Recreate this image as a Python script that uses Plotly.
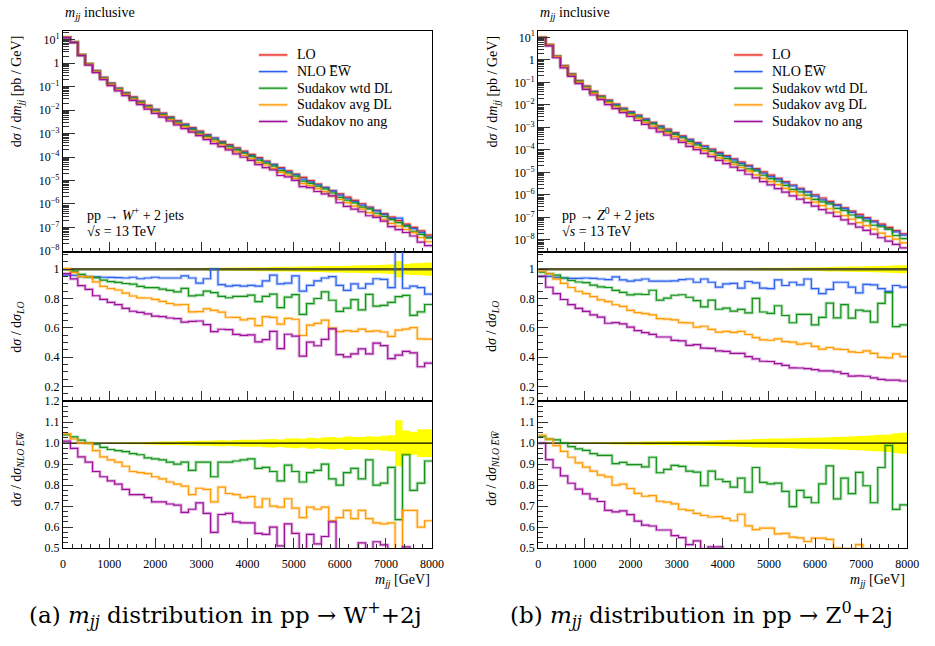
import plotly.graph_objects as go

# ---------------------------------------------------------------------------
# Binning: 50 bins of 160 GeV in m_jj
# ---------------------------------------------------------------------------
EDGES = list(range(0, 8001, 160))

# ---------------------------------------------------------------------------
# pp -> W+ + 2 jets
# ---------------------------------------------------------------------------
w_lo = [12.6, 7.94, 2.34, 0.955, 0.479, 0.251, 0.141, 0.0871, 0.0562, 0.0363,
        0.024, 0.0158, 0.0107, 7.41e-3, 5.13e-3, 3.55e-3, 2.51e-3, 1.78e-3, 1.26e-3, 8.91e-4,
        6.46e-4, 4.68e-4, 3.39e-4, 2.45e-4, 1.78e-4, 1.29e-4, 9.33e-5, 6.76e-5, 4.9e-5, 3.55e-5,
        2.57e-5, 1.86e-5, 1.35e-5, 9.77e-6, 7.08e-6, 5.13e-6, 3.72e-6, 2.69e-6, 1.95e-6, 1.41e-6,
        1.02e-6, 7.41e-7, 5.37e-7, 3.89e-7, 2.75e-7, 1.95e-7, 1.38e-7, 1.0e-7, 7.08e-8, 4.68e-8]
w_nlo_over_lo = [0.96, 0.958, 0.95, 0.948, 0.947, 0.945, 0.944, 0.943, 0.94, 0.945,
                 0.935, 0.94, 0.945, 0.94, 0.94, 0.94, 0.955, 0.94, 0.905, 0.935,
                 1.0, 0.895, 0.885, 0.89, 0.885, 0.89, 0.885, 0.92, 0.96, 0.9,
                 0.905, 0.955, 0.85, 0.89, 0.92, 0.94, 0.95, 0.89, 0.855, 0.9,
                 0.87, 0.9, 0.935, 0.93, 0.875, 1.28, 0.87, 0.885, 0.875, 0.83]
w_wtd_over_nlo = [1.04, 1.03, 1.015, 1.0, 0.995, 0.98, 0.97, 0.965, 0.96, 0.95,
                  0.945, 0.93, 0.925, 0.92, 0.91, 0.90, 0.91, 0.87, 0.91, 0.91,
                  0.84, 0.91, 0.91, 0.915, 0.92, 0.925, 0.88, 0.885, 0.865, 0.82,
                  0.895, 0.865, 0.815, 0.86, 0.87, 0.90, 0.83, 0.80, 0.86, 0.88,
                  0.83, 0.92, 0.80, 0.81, 0.885, 0.635, 0.945, 0.775, 0.81, 0.915]
w_avg_over_nlo = [1.045, 1.02, 1.0, 1.0, 0.965, 0.935, 0.92, 0.91, 0.89, 0.865,
                  0.86, 0.855, 0.84, 0.83, 0.815, 0.805, 0.795, 0.755, 0.785, 0.78,
                  0.72, 0.79, 0.76, 0.755, 0.74, 0.745, 0.695, 0.735, 0.70, 0.695,
                  0.735, 0.69, 0.645, 0.695, 0.685, 0.695, 0.63, 0.645, 0.68, 0.64,
                  0.68, 0.64, 0.62, 0.615, 0.62, 0.457, 0.68, 0.68, 0.60, 0.63]
w_noang_over_nlo = [1.01, 0.975, 0.935, 0.91, 0.865, 0.84, 0.82, 0.805, 0.78, 0.755,
                    0.755, 0.74, 0.72, 0.72, 0.71, 0.705, 0.67, 0.685, 0.715, 0.665,
                    0.575, 0.66, 0.665, 0.625, 0.62, 0.62, 0.57, 0.565, 0.60, 0.51,
                    0.615, 0.57, 0.48, 0.565, 0.52, 0.555, 0.625, 0.47, 0.47, 0.47,
                    0.525, 0.47, 0.53, 0.515, 0.446, 0.324, 0.505, 0.486, 0.383, 0.434]
w_lo_err = [0.002, 0.002, 0.002, 0.002, 0.002, 0.003, 0.003, 0.003, 0.003, 0.004,
            0.004, 0.005, 0.005, 0.006, 0.006, 0.007, 0.007, 0.008, 0.008, 0.009,
            0.010, 0.010, 0.011, 0.012, 0.012, 0.013, 0.014, 0.014, 0.015, 0.016,
            0.016, 0.017, 0.018, 0.019, 0.020, 0.021, 0.022, 0.022, 0.024, 0.025,
            0.026, 0.027, 0.028, 0.030, 0.032, 0.055, 0.036, 0.040, 0.042, 0.045]
w_nlo_err = [0.001, 0.001, 0.001, 0.002, 0.002, 0.002, 0.003, 0.003, 0.004, 0.005,
             0.005, 0.006, 0.007, 0.008, 0.008, 0.009, 0.010, 0.011, 0.012, 0.012,
             0.013, 0.014, 0.013, 0.015, 0.016, 0.017, 0.016, 0.019, 0.020, 0.018,
             0.022, 0.024, 0.021, 0.026, 0.024, 0.028, 0.030, 0.026, 0.032, 0.029,
             0.030, 0.033, 0.031, 0.036, 0.038, 0.110, 0.060, 0.055, 0.066, 0.066]

# ---------------------------------------------------------------------------
# pp -> Z0 + 2 jets
# ---------------------------------------------------------------------------
z_lo = [10.0, 4.79, 1.48, 0.55, 0.24, 0.12, 0.0676, 0.0398, 0.0251, 0.0162,
        0.0107, 7.24e-3, 5.01e-3, 3.47e-3, 2.4e-3, 1.66e-3, 1.17e-3, 8.32e-4, 5.89e-4, 4.17e-4,
        2.95e-4, 2.11e-4, 1.51e-4, 1.08e-4, 7.76e-5, 5.56e-5, 3.98e-5, 2.85e-5, 2.04e-5, 1.46e-5,
        1.05e-5, 7.5e-6, 5.37e-6, 3.85e-6, 2.75e-6, 1.97e-6, 1.41e-6, 1.01e-6, 7.24e-7, 5.19e-7,
        3.72e-7, 2.66e-7, 1.91e-7, 1.36e-7, 9.77e-8, 7.0e-8, 5.01e-8, 3.59e-8, 2.57e-8, 1.84e-8]
z_nlo_over_lo = [0.951, 0.951, 0.944, 0.94, 0.938, 0.938, 0.94, 0.938, 0.933, 0.929,
                 0.947, 0.927, 0.918, 0.925, 0.933, 0.918, 0.918, 0.918, 0.92, 0.929,
                 0.933, 0.911, 0.933, 0.911, 0.878, 0.9, 0.904, 0.871, 0.916, 0.907,
                 0.871, 0.867, 0.927, 0.889, 0.911, 0.893, 0.933, 0.867, 0.833, 0.862,
                 0.911, 0.911, 0.878, 0.838, 0.896, 0.893, 0.867, 0.849, 0.889, 0.878]
z_wtd_over_nlo = [1.031, 1.019, 1.016, 1.0, 0.984, 0.973, 0.966, 0.95, 0.942, 0.942,
                  0.903, 0.909, 0.898, 0.898, 0.887, 0.933, 0.859, 0.875, 0.894, 0.889,
                  0.867, 0.862, 0.797, 0.867, 0.828, 0.817, 0.79, 0.833, 0.767, 0.884,
                  0.813, 0.806, 0.81, 0.77, 0.697, 0.775, 0.742, 0.716, 0.806, 0.892,
                  0.734, 0.833, 0.759, 0.861, 0.797, 0.716, 0.884, 0.989, 0.684, 0.706]
z_avg_over_nlo = [1.039, 1.019, 0.988, 0.961, 0.933, 0.906, 0.886, 0.867, 0.848, 0.839,
                  0.8, 0.805, 0.784, 0.761, 0.747, 0.75, 0.723, 0.719, 0.711, 0.685,
                  0.68, 0.665, 0.655, 0.648, 0.65, 0.641, 0.63, 0.661, 0.606, 0.588,
                  0.595, 0.595, 0.567, 0.57, 0.552, 0.548, 0.531, 0.547, 0.547, 0.541,
                  0.5, 0.497, 0.497, 0.516, 0.495, 0.478, 0.461, 0.466, 0.475, 0.46]
z_noang_over_nlo = [1.0, 0.922, 0.883, 0.844, 0.809, 0.781, 0.758, 0.734, 0.722, 0.68,
                    0.672, 0.677, 0.659, 0.628, 0.609, 0.605, 0.586, 0.586, 0.559, 0.55,
                    0.516, 0.534, 0.495, 0.505, 0.505, 0.489, 0.472, 0.49, 0.441, 0.429,
                    0.428, 0.428, 0.384, 0.387, 0.359, 0.366, 0.345, 0.364, 0.369, 0.356,
                    0.329, 0.317, 0.309, 0.326, 0.302, 0.291, 0.287, 0.287, 0.274, 0.271]
z_lo_err = [0.001, 0.001, 0.001, 0.001, 0.001, 0.001, 0.001, 0.001, 0.001, 0.001,
            0.002, 0.002, 0.002, 0.003, 0.003, 0.003, 0.003, 0.004, 0.004, 0.004,
            0.005, 0.005, 0.005, 0.006, 0.006, 0.006, 0.007, 0.007, 0.008, 0.008,
            0.009, 0.009, 0.010, 0.010, 0.011, 0.012, 0.012, 0.013, 0.014, 0.015,
            0.016, 0.017, 0.018, 0.019, 0.020, 0.021, 0.022, 0.024, 0.026, 0.027]
z_nlo_err = [0.002, 0.002, 0.002, 0.002, 0.003, 0.003, 0.003, 0.004, 0.004, 0.005,
             0.006, 0.006, 0.007, 0.007, 0.008, 0.008, 0.009, 0.009, 0.010, 0.010,
             0.011, 0.011, 0.012, 0.013, 0.014, 0.015, 0.016, 0.017, 0.018, 0.020,
             0.021, 0.022, 0.022, 0.023, 0.024, 0.025, 0.026, 0.026, 0.027, 0.028,
             0.030, 0.031, 0.032, 0.034, 0.036, 0.038, 0.040, 0.042, 0.048, 0.050]

SERIES = ["LO", "NLO E\u0305W\u0305", "Sudakov wtd DL", "Sudakov avg DL", "Sudakov no ang"]
COLORS = ["#e8231b", "#2d62ee", "#15941b", "#ff9a00", "#9d109b"]

PANELS = [
    dict(lo=w_lo, nlo=w_nlo_over_lo, wtd=w_wtd_over_nlo, avg=w_avg_over_nlo,
         noang=w_noang_over_nlo, lo_err=w_lo_err, nlo_err=w_nlo_err,
         x0=61, x1=436, logrange=[-8.03, 1.35],
         proc="pp \u2192 <i>W</i><sup>+</sup> + 2 jets",
         caption="(a) <i>m<sub>jj</sub></i> distribution in pp \u2192 W<sup>+</sup>+2j"),
    dict(lo=z_lo, nlo=z_nlo_over_lo, wtd=z_wtd_over_nlo, avg=z_avg_over_nlo,
         noang=z_noang_over_nlo, lo_err=z_lo_err, nlo_err=z_nlo_err,
         x0=544, x1=919, logrange=[-8.52, 1.26],
         proc="pp \u2192 <i>Z</i><sup>0</sup> + 2 jets",
         caption="(b) <i>m<sub>jj</sub></i> distribution in pp \u2192 Z<sup>0</sup>+2j"),
]

W, H = 935, 646
Y_MAIN, Y_R1, Y_R2 = (25, 250), (250, 403), (403, 553)
TICKFONT = dict(family="Liberation Serif", size=12, color="black")
TEXTFONT = dict(family="Liberation Serif", size=14, color="black")
HALO_W, HALO_A, LINE_W = 3.2, 0.28, 1.2


def px(x):
    return x / W


def py(y):
    return 1 - y / H


def step(vals):
    return list(vals) + [vals[-1]]


fig = go.Figure()
annotations, shapes = [], []


def axref(n):
    return dict(xaxis="x" if n == 1 else f"x{n}", yaxis="y" if n == 1 else f"y{n}")


def add_line(n, vals, color, width=LINE_W, halo=True):
    if halo:
        fig.add_trace(go.Scatter(x=EDGES, y=step(vals), mode="lines", line_shape="hv",
                                 line=dict(color=color, width=HALO_W), opacity=HALO_A,
                                 hoverinfo="skip", showlegend=False, **axref(n)))
    fig.add_trace(go.Scatter(x=EDGES, y=step(vals), mode="lines", line_shape="hv",
                             line=dict(color=color, width=width),
                             hoverinfo="skip", showlegend=False, **axref(n)))


def add_band(n, err):
    lo = [1 - e for e in err]
    hi = [1 + e for e in err]
    fig.add_trace(go.Scatter(x=EDGES, y=step(lo), mode="lines", line_shape="hv",
                             line=dict(width=0, color="#ffff00"), hoverinfo="skip",
                             showlegend=False, **axref(n)))
    fig.add_trace(go.Scatter(x=EDGES, y=step(hi), mode="lines", line_shape="hv",
                             line=dict(width=0, color="#ffff00"), fill="tonexty",
                             fillcolor="#ffff00", hoverinfo="skip", showlegend=False,
                             **axref(n)))


for k, p in enumerate(PANELS):
    n_main, n_r1, n_r2 = 3 * k + 1, 3 * k + 2, 3 * k + 3
    nlo_over_lo = p["nlo"]
    over_lo = [nlo_over_lo] + [[a * b for a, b in zip(p[s], nlo_over_lo)]
                               for s in ("wtd", "avg", "noang")]
    over_nlo = [p["wtd"], p["avg"], p["noang"]]

    # main panel: absolute distributions
    add_line(n_main, p["lo"], COLORS[0])
    for r, c in zip(over_lo, COLORS[1:]):
        add_line(n_main, [a * b for a, b in zip(p["lo"], r)], c)

    # ratio to LO
    add_band(n_r1, p["lo_err"])
    add_line(n_r1, [1.0] * 50, "#56562c", width=2.6, halo=False)
    for r, c in zip(over_lo, COLORS[1:]):
        add_line(n_r1, r, c)

    # ratio to NLO EW
    add_band(n_r2, p["nlo_err"])
    add_line(n_r2, [1.0] * 50, "black", width=1.2, halo=False)
    for r, c in zip(over_nlo, COLORS[2:]):
        add_line(n_r2, r, c)

    dom_x = [px(p["x0"]), px(p["x1"])]
    for n, (ya, yb) in zip((n_main, n_r1, n_r2), (Y_MAIN, Y_R1, Y_R2)):
        xa = "xaxis" if n == 1 else f"xaxis{n}"
        yaname = "yaxis" if n == 1 else f"yaxis{n}"
        fig.layout[xa] = dict(
            domain=dom_x, range=[0, 8000], anchor="y" if n == 1 else f"y{n}",
            showline=True, mirror=True, linecolor="black", linewidth=1.1,
            ticks="inside", ticklen=10, tickwidth=1, tickcolor="#333",
            tickvals=list(range(0, 8001, 1000)), ticklabelstandoff=5,
            showticklabels=(n == n_r2), tickfont=TICKFONT,
            minor=dict(dtick=200, ticks="inside", ticklen=4, tickcolor="#333", showgrid=False),
            showgrid=False, zeroline=False)
        common_y = dict(domain=[py(yb), py(ya)], anchor="x" if n == 1 else f"x{n}",
                        showline=True, mirror=True, linecolor="black", linewidth=1.1,
                        ticks="inside", tickwidth=1, tickcolor="#333",
                        tickfont=TICKFONT, showgrid=False, zeroline=False)
        if n == n_main:
            decades = list(range(-8, 2))
            labels = []
            for d in decades:
                if d == 0:
                    labels.append("1")
                else:
                    labels.append("10<sup>%s</sup>" % (str(d).replace("-", "\u2212")))
            fig.layout[yaname] = dict(
                type="log", range=p["logrange"], ticklen=12,
                tickvals=[10.0 ** d for d in decades], ticktext=labels,
                minor=dict(dtick="D1", ticks="inside", ticklen=6, tickcolor="#333",
                           showgrid=False),
                **common_y)
        elif n == n_r1:
            fig.layout[yaname] = dict(
                range=[0.1, 1.12], ticklen=10,
                tickvals=[0.2, 0.4, 0.6, 0.8, 1.0], ticktext=["0.2", "0.4", "0.6", "0.8", "1"],
                minor=dict(dtick=0.05, tick0=0, ticks="inside", ticklen=5, tickcolor="#333",
                           showgrid=False),
                **common_y)
        else:
            fig.layout[yaname] = dict(
                range=[0.5, 1.2], ticklen=10,
                tickvals=[0.5, 0.6, 0.7, 0.8, 0.9, 1.0, 1.1, 1.2], tickformat=".1f",
                minor=dict(dtick=0.025, tick0=0, ticks="inside", ticklen=5, tickcolor="#333",
                           showgrid=False),
                **common_y)

    x0, x1 = p["x0"], p["x1"]
    # panel title
    annotations.append(dict(text="<i>m<sub>jj</sub></i> inclusive", x=px(x0), y=py(7),
                            xanchor="left", yanchor="middle", showarrow=False,
                            font=TEXTFONT, xref="paper", yref="paper"))
    # axis titles
    annotations.append(dict(text="d<i>\u03c3</i> / d<i>m<sub>jj</sub></i> [pb / GeV]",
                            x=px(x0 - 46), y=py(27), textangle=-90, xanchor="center",
                            yanchor="top", showarrow=False, font=TEXTFONT,
                            xref="paper", yref="paper"))
    annotations.append(dict(text="d<i>\u03c3</i> / d<i>\u03c3<sub>LO</sub></i>",
                            x=px(x0 - 46), y=py(327), textangle=-90, xanchor="center",
                            yanchor="middle", showarrow=False, font=TEXTFONT,
                            xref="paper", yref="paper"))
    annotations.append(dict(text="d<i>\u03c3</i> / d<i>\u03c3<sub>NLO E\u0305W\u0305</sub></i>",
                            x=px(x0 - 46), y=py(472), textangle=-90, xanchor="center",
                            yanchor="middle", showarrow=False, font=TEXTFONT,
                            xref="paper", yref="paper"))
    annotations.append(dict(text="<i>m<sub>jj</sub></i> [GeV]", x=px(x1), y=py(586),
                            xanchor="right", yanchor="middle", showarrow=False,
                            font=TEXTFONT, xref="paper", yref="paper"))
    # process label
    annotations.append(dict(text=p["proc"], x=px(x0 + 22), y=py(212), xanchor="left",
                            yanchor="middle", showarrow=False, font=TEXTFONT,
                            xref="paper", yref="paper"))
    annotations.append(dict(text="\u221a<i>s</i> = 13 TeV",
                            x=px(x0 + 22), y=py(229), xanchor="left", yanchor="middle",
                            showarrow=False, font=TEXTFONT, xref="paper", yref="paper"))
    # legend
    for i, (name, col) in enumerate(zip(SERIES, COLORS)):
        yy = py(49 + 17 * i)
        shapes.append(dict(type="line", xref="paper", yref="paper", x0=px(x0 + 199),
                           x1=px(x0 + 228), y0=yy, y1=yy,
                           line=dict(color=col, width=HALO_W), opacity=HALO_A))
        shapes.append(dict(type="line", xref="paper", yref="paper", x0=px(x0 + 199),
                           x1=px(x0 + 228), y0=yy, y1=yy, line=dict(color=col, width=LINE_W)))
        annotations.append(dict(text=name, x=px(x0 + 236), y=yy, xanchor="left",
                                yanchor="middle", showarrow=False, font=TEXTFONT,
                                xref="paper", yref="paper"))
    # caption
    annotations.append(dict(text=p["caption"], x=px((x0 + x1) / 2 - 22), y=py(621),
                            xanchor="center", yanchor="middle", showarrow=False,
                            font=dict(family="DejaVu Serif", size=23, color="black"),
                            xref="paper", yref="paper"))

fig.update_layout(width=W, height=H, margin=dict(l=0, r=0, t=0, b=0),
                  paper_bgcolor="white", plot_bgcolor="white", showlegend=False,
                  annotations=annotations, shapes=shapes)

fig.write_html("out.html")
